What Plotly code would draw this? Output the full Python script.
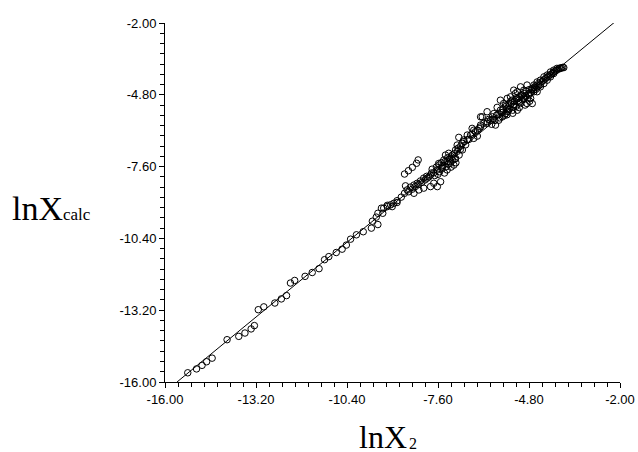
import plotly.graph_objects as go

# Axis ticks
tick_vals = [-16.0, -13.2, -10.4, -7.6, -4.8, -2.0]
tick_text = ["-16.00", "-13.20", "-10.40", "-7.60", "-4.80", "-2.00"]

# Reference line (as drawn in the chart)
line_x = [-15.63, -2.12]
line_y = [-16.00, -1.92]

x_low = [-15.30, -15.03, -14.86, -14.72, -14.55, -14.09, -13.73, -13.54, -13.35, -13.25,
         -13.13, -12.96, -12.62, -12.42, -12.26, -12.14, -12.01, -11.69, -11.47, -11.26,
         -11.09, -10.96, -10.73, -10.55, -10.42, -10.29, -10.11, -9.90, -9.65, -9.45,
         -9.62, -9.50, -9.45, -9.30, -9.16, -9.34, -9.01, -8.86]
y_low = [-15.64, -15.49, -15.35, -15.21, -15.07, -14.35, -14.22, -14.09, -13.93, -13.80,
         -13.18, -13.07, -12.92, -12.76, -12.63, -12.14, -12.04, -11.88, -11.73, -11.58,
         -11.23, -11.11, -10.95, -10.82, -10.66, -10.43, -10.26, -10.14, -10.00, -9.86,
         -9.73, -9.57, -9.42, -9.42, -9.11, -9.22, -9.16, -9.00]

x_mid = [-9.27, -9.16, -9.06, -8.96, -8.86, -8.73, -8.63, -8.55, -8.60, -8.39,
         -8.34, -8.24, -8.14, -8.04, -7.93, -7.83, -7.73, -7.62, -7.57, -7.47,
         -7.32, -7.42, -7.32, -7.22, -7.11, -7.06, -7.27, -7.37, -7.16, -7.06,
         -6.91, -7.01, -6.86, -6.96, -6.70, -6.65, -6.55, -6.50, -6.39, -6.45,
         -6.34, -6.29, -6.09, -6.24, -6.04,
         -7.73, -7.62, -7.83, -7.52, -8.04, -8.19, -8.34,
         -8.63, -8.51, -8.39, -8.26, -8.21]
y_mid = [-9.22, -9.16, -9.09, -9.03, -8.93, -8.79, -8.64, -8.51, -8.35, -8.48,
         -8.32, -8.25, -8.16, -8.05, -8.05, -7.93, -7.84, -7.73, -7.54, -7.67,
         -7.73, -7.34, -7.41, -7.47, -7.54, -7.28, -7.08, -7.15, -7.15, -6.95,
         -6.93, -6.76, -6.69, -6.46, -6.37, -6.54, -6.33, -6.50, -6.41, -6.24,
         -6.11, -5.98, -5.91, -5.66, -5.76,
         -8.25, -8.38, -8.38, -8.19, -8.44, -8.51, -8.64,
         -7.89, -7.76, -7.63, -7.47, -7.34]

x_band = [-8.50, -8.45, -8.30, -8.20, -8.10, -8.00, -7.95, -7.88, -7.80, -7.70,
          -7.65, -7.60, -7.55, -7.50, -7.45, -7.40, -7.35, -7.30, -7.25, -7.20,
          -7.15, -7.10, -7.05, -7.00, -6.95, -6.90, -6.85, -6.80, -6.75, -6.70,
          -6.81, -6.60, -6.50, -6.39, -6.29, -6.55, -6.19, -6.09, -5.98, -5.93,
          -5.88, -5.68, -5.58, -5.68, -5.37, -5.22, -5.11, -5.01, -5.27, -5.16,
          -7.78, -7.58, -7.48, -7.38, -7.28, -7.18, -7.08, -6.98]
y_band = [-8.58, -8.40, -8.38, -8.30, -8.22, -8.12, -7.98, -8.00, -7.85, -7.95,
          -7.62, -7.90, -7.80, -7.45, -7.55, -7.85, -7.60, -7.25, -7.30, -7.62,
          -7.35, -7.10, -7.45, -7.00, -7.15, -6.80, -6.95, -6.62, -6.75, -6.55,
          -6.56, -6.37, -6.18, -6.18, -6.05, -6.11, -5.91, -5.85, -5.79, -5.66,
          -5.53, -5.40, -5.14, -5.01, -4.88, -4.75, -4.88, -4.81, -4.62, -4.68,
          -7.70, -7.48, -7.62, -7.40, -7.50, -7.22, -7.30, -6.88]

x_up = [-6.29, -6.09, -5.78, -5.83, -5.73, -5.62, -5.52, -5.47, -5.42, -5.47,
        -5.32, -5.27, -5.16, -5.06, -4.96, -4.86, -4.81, -4.75, -4.70, -4.96,
        -5.06, -4.86, -4.65, -4.55, -4.45, -4.34, -4.24, -4.14, -4.04, -3.94,
        -3.83, -3.73, -4.24, -4.45, -4.55, -4.65, -4.34, -4.14, -4.04,
        -5.95, -5.90, -5.85, -5.80, -5.75, -5.70, -5.65, -5.60, -5.55, -5.50,
        -5.45, -5.40, -5.35, -5.30, -5.25, -5.20, -5.15, -5.10, -5.05, -5.00,
        -4.95, -4.90, -4.85, -4.80, -4.75, -4.70, -4.65, -4.60, -4.55, -4.50,
        -4.45, -4.40, -4.35, -4.30, -4.25, -4.20, -4.15, -4.10, -4.05, -4.00,
        -3.95, -3.90, -3.86, -3.80, -3.76,
        -5.60, -5.52, -5.44, -5.36, -5.28, -5.20, -5.12, -5.04, -4.96, -4.88,
        -4.80, -4.72, -4.64, -4.58, -4.50, -5.48, -5.30, -5.10, -4.92, -4.78]
y_up = [-5.66, -5.46, -5.29, -5.98, -5.79, -5.66, -5.53, -5.33, -5.14, -4.94,
        -5.01, -5.27, -5.40, -5.14, -4.94, -5.14, -4.75, -4.94, -5.14, -4.62,
        -4.49, -4.42, -4.42, -4.30, -4.23, -4.10, -4.03, -3.91, -3.84, -3.77,
        -3.77, -3.74, -4.23, -4.49, -4.68, -4.68, -4.36, -4.10, -3.97,
        -5.95, -5.75, -5.80, -5.60, -5.55, -5.70, -5.50, -5.35, -5.60, -5.25,
        -5.45, -5.35, -5.15, -5.40, -5.05, -5.25, -4.95, -5.10, -4.85, -5.00,
        -4.75, -4.85, -4.95, -4.60, -4.72, -4.55, -4.60, -4.45, -4.50, -4.35,
        -4.40, -4.28, -4.22, -4.18, -4.12, -4.08, -4.02, -3.98, -3.92, -3.88,
        -3.84, -3.80, -3.76, -3.75, -3.73,
        -5.48, -5.20, -5.38, -5.05, -5.18, -4.92, -5.02, -4.80, -4.88, -4.66,
        -4.80, -4.62, -4.52, -4.58, -4.45, -5.58, -5.52, -5.30, -5.20, -5.05]

x_pts = x_low + x_mid + x_band + x_up
y_pts = y_low + y_mid + y_band + y_up

fig = go.Figure()
fig.add_trace(go.Scatter(x=line_x, y=line_y, mode="lines",
                         line=dict(color="black", width=1), hoverinfo="skip",
                         showlegend=False))
fig.add_trace(go.Scatter(x=x_pts, y=y_pts, mode="markers",
                         marker=dict(symbol="circle-open", size=6.5,
                                     color="black", line=dict(width=1, color="black")),
                         showlegend=False))

axis_common = dict(
    range=[-16, -2], tickmode="array", tickvals=tick_vals, ticktext=tick_text,
    showgrid=False, zeroline=False, showline=True, linecolor="black", linewidth=1,
    ticks="outside", ticklen=5, tickcolor="black", tickwidth=1,
    tickfont=dict(family="Liberation Sans, Arial", size=13, color="black"),
    minor=dict(dtick=0.4, tick0=-16, ticks="outside", ticklen=4,
               tickcolor="black", tickwidth=1, showgrid=False),
    mirror=False, automargin=False,
)
fig.update_xaxes(**axis_common)
fig.update_yaxes(**axis_common)

serif = "Liberation Serif, Times New Roman"
fig.update_layout(
    width=638, height=452,
    margin=dict(l=165, r=18, t=23, b=70),
    plot_bgcolor="white", paper_bgcolor="white",
    annotations=[
        dict(text="lnX<span style='font-size:17px'>calc</span>",
             xref="paper", yref="paper", x=-0.34, y=0.483,
             xanchor="left", yanchor="middle", showarrow=False,
             font=dict(family=serif, size=34, color="black")),
        dict(text="lnX",
             xref="paper", yref="paper", x=0.422, y=-0.153,
             xanchor="left", yanchor="middle", showarrow=False,
             font=dict(family=serif, size=32, color="black")),
        dict(text="2",
             xref="paper", yref="paper", x=0.531, y=-0.17,
             xanchor="left", yanchor="middle", showarrow=False,
             font=dict(family=serif, size=16, color="black")),
    ],
)

# remove the page's default body margin / scrollbars so the figure fills the window
fig.write_html("out.html", config={"displayModeBar": False},
               post_script="document.body.style.margin='0';document.body.style.overflow='hidden';")
